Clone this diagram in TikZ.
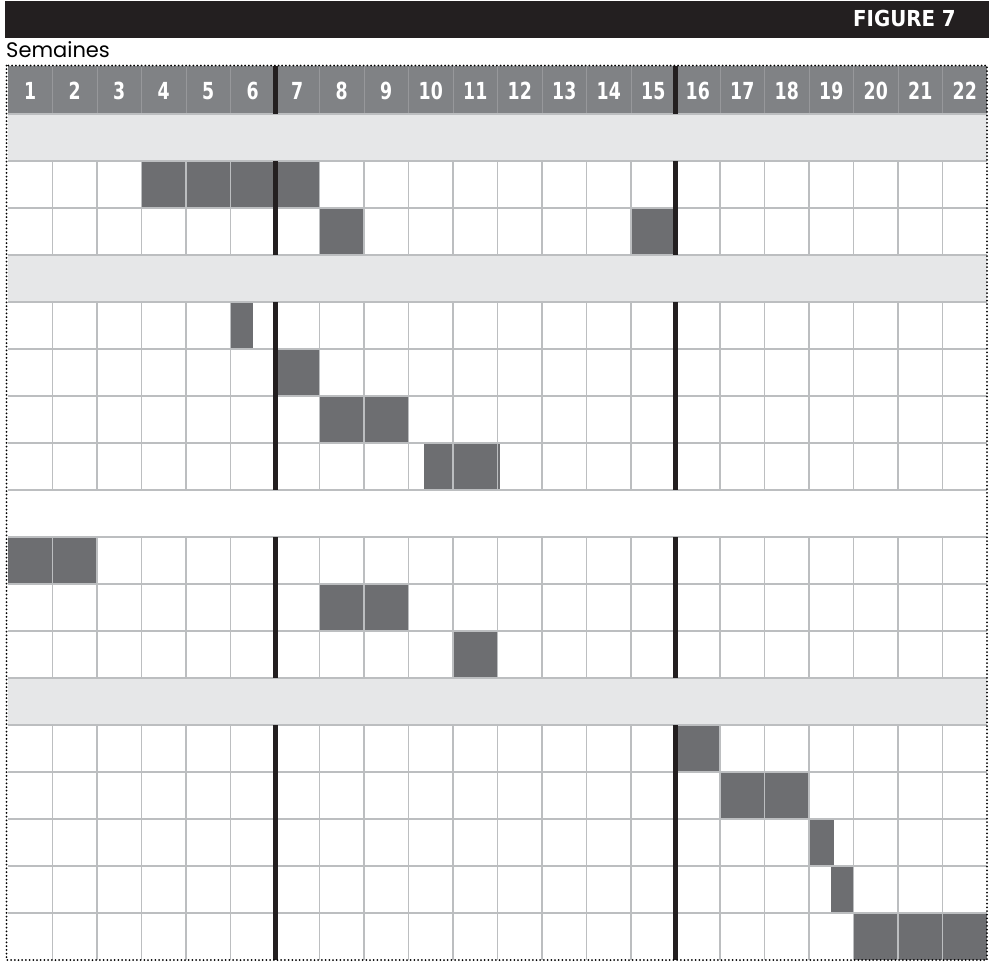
\documentclass[tikz,border=0pt]{standalone}
\usepackage{fontspec}
\newfontfamily\numfont{DejaVu Sans Condensed}
\newfontfamily\semfont{Poppins}
\definecolor{barfill}{HTML}{6D6E71}
\definecolor{hdrfill}{HTML}{808285}
\definecolor{hdrsep}{HTML}{97989B}
\definecolor{bandfill}{HTML}{E6E7E8}
\definecolor{gridline}{HTML}{BCBEC0}
\definecolor{inkblack}{HTML}{231F20}

\begin{document}
\begin{tikzpicture}[x=1pt, y=-1pt,
    gridln/.style={draw=gridline, line width=1.4pt},
    taskbar/.style={fill=barfill},
    weekline/.style={draw=inkblack, line width=5pt},
    weeknum/.style={text=white, font=\numfont\bfseries\fontsize{23.5}{23.5}\selectfont, anchor=base, inner sep=0pt},
    dotborder/.style={draw=black, line width=2pt, line cap=round, dash pattern=on 0pt off 3.7pt}]
    \useasboundingbox (0,0) rectangle (989,962);

    % Title bar
    \fill[inkblack] (5,1) rectangle (989,38);
    \node[text=white, font=\numfont\bfseries\fontsize{22}{22}\selectfont, anchor=base east, inner sep=0pt] (fig) at (956,26) {FIGURE 7};
    \node[font=\semfont\fontsize{21}{21}\selectfont, anchor=base west, inner sep=0pt] (sem) at (6,57) {Semaines};

    % Header row with week numbers
    \fill[hdrfill] (8,66) rectangle (987,114);
    \foreach \c in {1,...,21}
        \draw[draw=hdrsep, line width=1pt] ({8+44.5*\c},66) -- ({8+44.5*\c},114);
    \foreach \c in {1,...,22}
        \node[weeknum] (wk\c) at ({8+44.5*(\c-0.5)},99) {\scalebox{0.82}[1]{\c}};

    % Grey bands
    \foreach \r in {0,3,12}
        \fill[bandfill] (8,{114+47*\r}) rectangle (987,{161+47*\r});

    % Task bars: start column / end column / row
    \foreach \a/\b/\r in {3/7/1, 7/8/2, 14/15/2, 5/5.5/4, 6/7/5, 7/9/6, 9.35/11.05/7,
                          0/2/9, 7/9/10, 10/11/11, 15/16/13, 16/18/14, 18/18.56/15,
                          18.5/19/16, 19/22/17}
        \fill[taskbar] ({8+44.5*\a},{114+47*\r}) rectangle ({8+44.5*\b},{161+47*\r});

    % Grid
    \foreach \r in {1,2,4,5,6,7,9,10,11,13,14,15,16,17}
        \foreach \c in {1,...,21}
            \draw[gridln] ({8+44.5*\c},{114+47*\r}) -- ({8+44.5*\c},{161+47*\r});
    \foreach \k in {0,...,17}
        \draw[gridln] (8,{114+47*\k}) -- (987,{114+47*\k});

    % Week separators
    \foreach \c in {6,15}
        \foreach \ya/\yb in {66/114, 161/255, 302/490, 537/678, 725/960}
            \draw[weekline] ({8+44.5*\c},\ya) -- ({8+44.5*\c},\yb);

    \draw[dotborder] (6.5,65.5) rectangle (987,960);
\end{tikzpicture}
\end{document}
